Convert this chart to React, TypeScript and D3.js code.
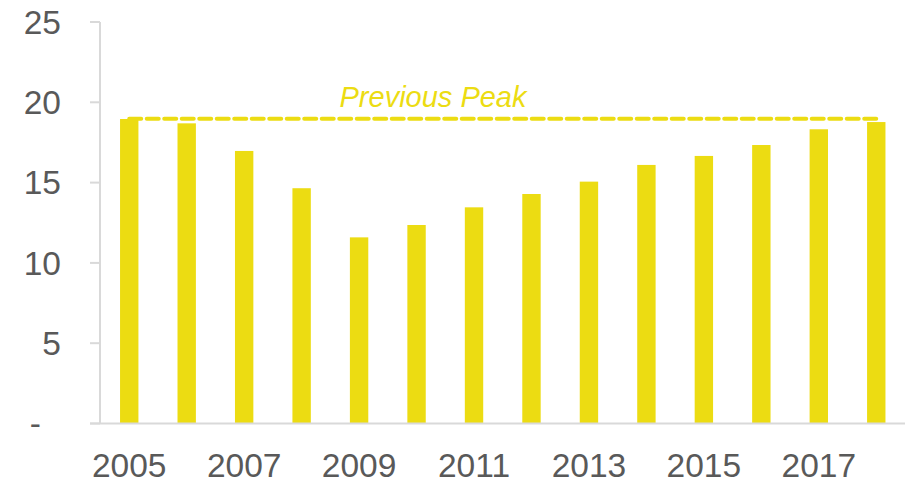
import React from "react";
import * as d3 from "d3";

const years = ["2005","2006","2007","2008","2009","2010","2011","2012","2013","2014","2015","2016","2017","2018"];
const values = [18.96, 18.69, 16.97, 14.65, 11.59, 12.36, 13.46, 14.29, 15.06, 16.1, 16.66, 17.34, 18.32, 18.77];
const yTicks = [0, 5, 10, 15, 20, 25];
const xLabelYears = ["2005","2007","2009","2011","2013","2015","2017"];
const peakValue = 18.98;
const peakLabel = "Previous Peak";

const W = 911, H = 483;
const BAR = "#ecdc12";
const AXIS = "#d9d9d9";
const TEXT = "#595959";

export default function App() {
  const x = d3.scaleBand<string>().domain(years).range([100.5, 905]).paddingInner(0.68).paddingOuter(0.34);
  const y = d3.scaleLinear().domain([0, 25]).range([423.5, 22]);
  const bw = x.bandwidth();
  const peakY = y(peakValue);
  const first = years[0], last = years[years.length - 1];
  const font = "Arial, 'Liberation Sans', sans-serif";
  return (
    <svg width={W} height={H} style={{ position: "absolute", left: 0, top: 0 }} fontFamily={font}>
      {values.map((v, i) => (
        <rect key={years[i]} x={x(years[i])} y={y(v)} width={bw} height={y(0) - y(v)} fill={BAR} />
      ))}
      <line x1={100} x2={100} y1={y(25)} y2={y(0)} stroke={AXIS} strokeWidth={2} />
      {yTicks.map(t => (
        <line key={"t" + t} x1={90} x2={100} y1={y(t)} y2={y(t)} stroke={AXIS} strokeWidth={2} />
      ))}
      <line x1={90} x2={905} y1={y(0)} y2={y(0)} stroke={AXIS} strokeWidth={2} />
      {yTicks.map(t => (
        <text key={"l" + t} x={t === 0 ? 41 : 61} y={y(t)} dy="0.35em" textAnchor="end" fontSize={33.5} fill={TEXT}>
          {t === 0 ? "-" : String(t)}
        </text>
      ))}
      {xLabelYears.map(yr => (
        <text key={yr} x={(x(yr) as number) + bw / 2} y={477} textAnchor="middle" fontSize={33.5} fill={TEXT}>
          {yr}
        </text>
      ))}
      <line
        x1={(x(first) as number) + bw / 2}
        x2={(x(last) as number) + bw / 2}
        y1={peakY}
        y2={peakY}
        stroke={BAR}
        strokeWidth={4}
        strokeDasharray="12 5.5"
        strokeLinecap="round"
      />
      <text x={433} y={106.5} textAnchor="middle" fontSize={29} fontStyle="italic" fill={BAR}>
        {peakLabel}
      </text>
    </svg>
  );
}
